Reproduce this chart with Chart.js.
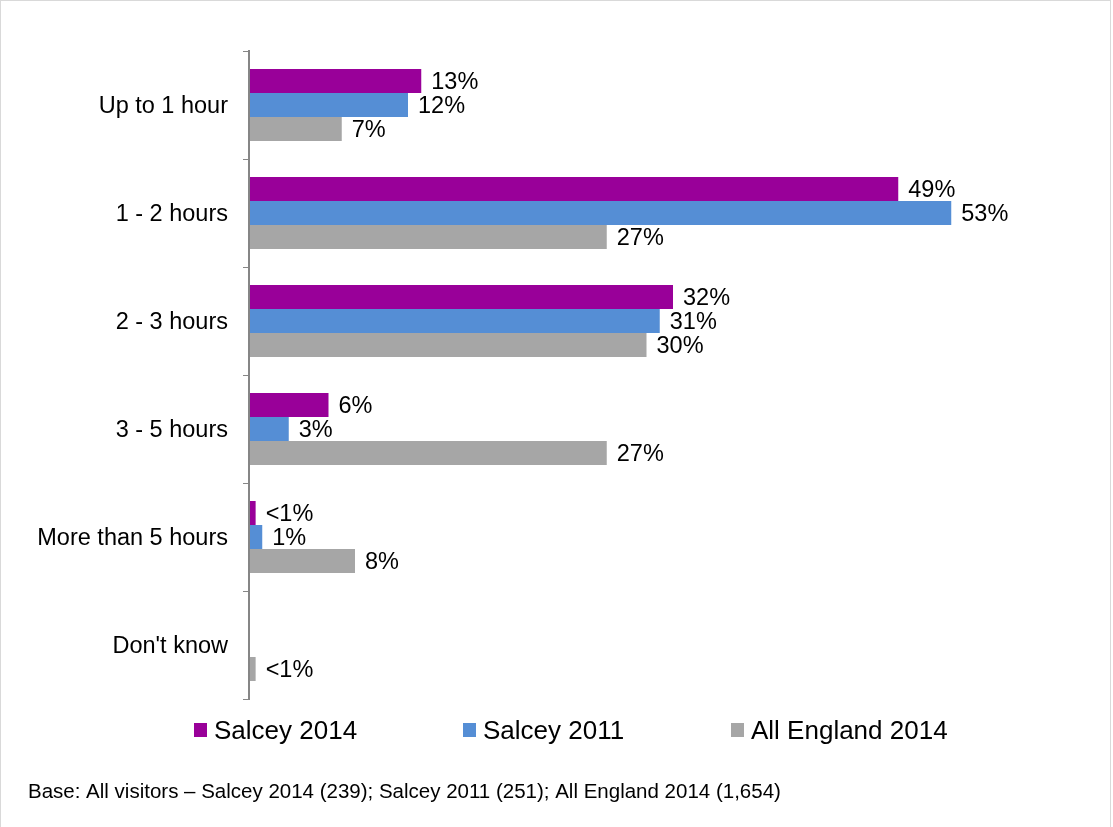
<!DOCTYPE html>
<html>
<head>
<meta charset="utf-8">
<title>Length of visit</title>
<script src="https://cdn.jsdelivr.net/npm/chart.js@4"></script>
<style>
  html, body { margin: 0; padding: 0; background: #fff; }
  canvas { display: block; }
</style>
</head>
<body>
<canvas id="visitChart" width="1113" height="827"></canvas>
<script>
const categories = ["Up to 1 hour", "1 - 2 hours", "2 - 3 hours", "3 - 5 hours", "More than 5 hours", "Don't know"];
const seriesNames = ["Salcey 2014", "Salcey 2011", "All England 2014"];
const salcey2014 = [13, 49, 32, 6, 0.5, null];
const salcey2011 = [12, 53, 31, 3, 1, null];
const allEngland2014 = [7, 27, 30, 27, 8, 0.5];
const colours = ["#990099", "#558ED5", "#A6A6A6"];
const baseNote = "Base: All visitors \u2013 Salcey 2014 (239); Salcey 2011 (251); All England 2014 (1,654)";

const FONT = '"Liberation Sans", Arial, sans-serif';

// percentage text just past the end of each bar
const valueLabels = {
    id: "valueLabels",
    afterDatasetsDraw(chart) {
        const ctx = chart.ctx;
        ctx.save();
        ctx.font = "23.5px " + FONT;
        ctx.fillStyle = "#000";
        ctx.textBaseline = "middle";
        ctx.textAlign = "left";
        chart.data.datasets.forEach((ds, i) => {
            chart.getDatasetMeta(i).data.forEach((bar, j) => {
                const v = ds.data[j];
                if (v == null) return;
                ctx.fillText(v < 1 ? "<1%" : v + "%", bar.x + 10, bar.y + 2);
            });
        });
        ctx.restore();
    },
};

// outer frame, legend row and base note
const frameAndNotes = {
    id: "frameAndNotes",
    beforeDraw(chart) {
        const ctx = chart.ctx;
        ctx.save();
        ctx.fillStyle = "#fff";
        ctx.fillRect(0, 0, chart.width, chart.height);
        ctx.strokeStyle = "#d9d9d9";
        ctx.lineWidth = 1;
        ctx.strokeRect(0.5, 0.5, 1110, chart.height + 10);
        ctx.restore();
    },
    afterDraw(chart, args, opts) {
        const ctx = chart.ctx;
        ctx.save();
        ctx.textBaseline = "middle";
        ctx.textAlign = "left";
        ctx.font = "26px " + FONT;
        chart.data.datasets.forEach((ds, i) => {
            const x = opts.legendX[i];
            ctx.fillStyle = ds.backgroundColor;
            ctx.fillRect(x, opts.legendY - 7, 13, 14);
            ctx.fillStyle = "#000";
            ctx.fillText(ds.label, x + 20, opts.legendY + 2);
        });
        ctx.font = "20.5px " + FONT;
        ctx.fillText(baseNote, 28, 792);
        ctx.restore();
    },
};

new Chart(document.getElementById("visitChart"), {
    type: "bar",
    data: {
        labels: categories,
        datasets: [
            { label: seriesNames[0], data: salcey2014, backgroundColor: colours[0] },
            { label: seriesNames[1], data: salcey2011, backgroundColor: colours[1] },
            { label: seriesNames[2], data: allEngland2014, backgroundColor: colours[2] },
        ],
    },
    options: {
        indexAxis: "y",
        responsive: false,
        animation: false,
        datasets: {
            bar: { categoryPercentage: 0.667, barPercentage: 1.0 },
        },
        layout: {
            padding: { top: 51, bottom: 128, left: 37, right: 69 },
        },
        scales: {
            x: {
                display: false,
                min: 0,
                max: 60,
            },
            y: {
                afterFit(scale) {
                    scale.width = 212;
                },
                grid: {
                    display: true,
                    drawOnChartArea: false,
                    drawTicks: true,
                    tickLength: 6,
                    color: "#868686",
                    lineWidth: 1,
                },
                border: { display: true, color: "#868686", width: 2, z: 1 },
                ticks: {
                    color: "#000",
                    padding: 15,
                    labelOffset: 2,
                    font: { family: FONT, size: 23.5 },
                },
            },
        },
        plugins: {
            legend: { display: false },
            tooltip: { enabled: false },
            frameAndNotes: { legendX: [194, 463, 731], legendY: 730 },
        },
    },
    plugins: [valueLabels, frameAndNotes],
});
</script>
</body>
</html>
